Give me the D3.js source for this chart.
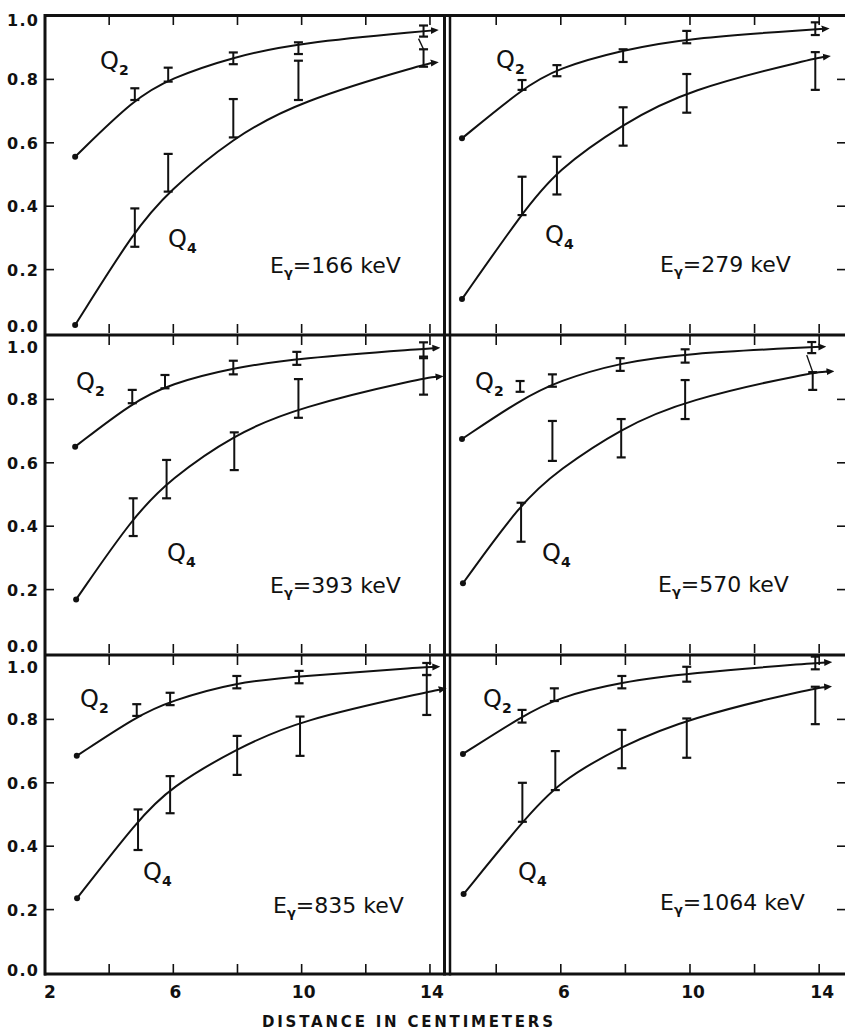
<!DOCTYPE html>
<html>
<head>
<meta charset="utf-8">
<script src="https://cdn.jsdelivr.net/npm/d3@7"></script>
<style>
  body { margin: 0; background: #fff; }
  text { font-family: "DejaVu Sans", sans-serif; fill: #111; }
</style>
</head>
<body>
<div id="chart"></div>
<script>
// gamma energy of each panel (row by row, left then right)
const energies = ["166", "279", "393", "570", "835", "1064"];
const xTicks = [4, 6, 8, 10, 12, 14];
const xLabelsLeft = [2, 6, 10, 14];
const xLabelsRight = [6, 10, 14];
const yTicks = [0, 0.2, 0.4, 0.6, 0.8, 1.0];

// smooth curves: [distance cm, value]
const q2Curves = [
  [[2.94,0.556],[4.8,0.74],[5.9,0.803],[7.9,0.872],[9.9,0.915],[13.9,0.953],[14.15,0.955]],
  [[2.94,0.614],[4.8,0.77],[5.88,0.835],[7.93,0.893],[9.9,0.93],[13.88,0.958],[14.2,0.96]],
  [[2.94,0.651],[4.72,0.79],[5.9,0.849],[7.87,0.9],[9.9,0.93],[13.8,0.96],[14.2,0.962]],
  [[2.94,0.675],[4.74,0.798],[5.93,0.859],[7.84,0.916],[9.85,0.945],[13.8,0.965],[14.1,0.966]],
  [[2.99,0.685],[4.86,0.81],[5.9,0.858],[7.98,0.918],[9.92,0.936],[13.9,0.965],[14.2,0.966]],
  [[2.97,0.691],[4.8,0.81],[5.93,0.87],[7.89,0.918],[9.9,0.945],[13.88,0.978],[14.28,0.98]]
];
const q4Curves = [
  [[2.94,0.025],[4.8,0.325],[5.84,0.446],[7.87,0.617],[9.9,0.73],[13.9,0.85],[14.15,0.853]],
  [[2.94,0.107],[4.8,0.378],[5.88,0.514],[7.93,0.66],[9.9,0.767],[13.88,0.867],[14.24,0.872]],
  [[2.97,0.169],[4.75,0.43],[5.9,0.548],[7.9,0.69],[9.9,0.775],[13.8,0.868],[14.3,0.872]],
  [[2.97,0.22],[4.77,0.474],[5.93,0.577],[7.87,0.709],[9.85,0.798],[13.8,0.886],[14.35,0.888]],
  [[3.0,0.236],[4.9,0.483],[5.9,0.585],[7.99,0.709],[9.95,0.798],[13.9,0.886],[14.4,0.896]],
  [[2.99,0.249],[4.81,0.477],[5.93,0.603],[7.89,0.716],[9.9,0.803],[13.88,0.9],[14.28,0.903]]
];

// error bars: [distance cm, low, high]
const q2Bars = [
  [[4.8,0.735,0.772],[5.84,0.793,0.837],[7.87,0.848,0.885],[9.9,0.88,0.917],[13.8,0.935,0.97]],
  [[4.8,0.767,0.798],[5.88,0.81,0.845],[7.93,0.855,0.895],[9.9,0.914,0.953],[13.88,0.94,0.98]],
  [[4.72,0.788,0.83],[5.74,0.835,0.877],[7.87,0.879,0.922],[9.85,0.909,0.95],[13.8,0.935,0.98]],
  [[4.74,0.824,0.858],[5.74,0.84,0.879],[7.84,0.89,0.93],[9.85,0.916,0.958],[13.77,0.946,0.981]],
  [[4.86,0.811,0.848],[5.9,0.845,0.884],[7.98,0.898,0.937],[9.92,0.914,0.953],[13.9,0.94,0.978]],
  [[4.8,0.79,0.83],[5.8,0.858,0.898],[7.89,0.898,0.937],[9.9,0.919,0.966],[13.88,0.958,0.998]]
];
const q4Bars = [
  [[4.8,0.272,0.393],[5.84,0.446,0.565],[7.87,0.617,0.738],[9.9,0.735,0.859],[13.8,0.84,0.895]],
  [[4.8,0.372,0.493],[5.88,0.437,0.556],[7.93,0.591,0.712],[9.9,0.695,0.817],[13.88,0.767,0.886]],
  [[4.75,0.369,0.488],[5.79,0.488,0.609],[7.9,0.577,0.696],[9.9,0.742,0.864],[13.8,0.815,0.93]],
  [[4.77,0.351,0.474],[5.74,0.606,0.732],[7.87,0.617,0.738],[9.85,0.738,0.861],[13.8,0.83,0.886]],
  [[4.9,0.388,0.516],[5.9,0.504,0.621],[7.99,0.625,0.748],[9.95,0.685,0.809],[13.9,0.814,0.94]],
  [[4.81,0.477,0.6],[5.83,0.577,0.7],[7.89,0.646,0.767],[9.9,0.679,0.803],[13.88,0.785,0.903]]
];
// panels where the last Q2 bar is joined to the Q4 bar by a short stroke
const joinedPanels = [0, 3];

// layout
const width = 845, height = 1031;
const rowTops = [16, 336, 656], rowH = 317;
const cols = [
  { left: 45, right: 446, domain: [2, 14.5] },
  { left: 451, right: 845, domain: [2.6, 14.8] }
];
// label baselines, relative to panel left / row top
const labelPos = [
  { q2: [55, 53], q4: [123, 231], e: [225, 257] },
  { q2: [45, 52], q4: [94, 227], e: [209, 256] },
  { q2: [31, 54], q4: [122, 225], e: [225, 257] },
  { q2: [24, 54], q4: [91, 225], e: [207, 256] },
  { q2: [35, 51], q4: [98, 224], e: [228, 257] },
  { q2: [32, 51], q4: [67, 224], e: [209, 254] }
];

const svg = d3.select("#chart")
  .append("svg")
    .attr("width", width)
    .attr("height", height);

svg.append("defs").append("marker")
    .attr("id", "arrow")
    .attr("viewBox", "0 -4 8 8")
    .attr("markerUnits", "userSpaceOnUse")
    .attr("markerWidth", 8)
    .attr("markerHeight", 8)
    .attr("refX", 4)
    .attr("refY", 0)
    .attr("orient", "auto")
  .append("path")
    .attr("d", "M0,-3.5L8,0L0,3.5Z")
    .attr("fill", "#111");

const ink = "#111";

energies.forEach((energy, i) => {
  const row = Math.floor(i / 2), col = i % 2;
  const c = cols[col];
  const top = rowTops[row];
  const x = d3.scaleLinear().domain(c.domain).range([c.left, c.right]);
  const y = d3.scaleLinear().domain([0, 1]).range([top + rowH, top]);
  const g = svg.append("g");

  // x ticks, pointing inward from the top and bottom edge
  xTicks.forEach(t => {
    g.append("line").attr("x1", x(t)).attr("x2", x(t))
      .attr("y1", top).attr("y2", top + 9)
      .attr("stroke", ink).attr("stroke-width", 1.6);
    g.append("line").attr("x1", x(t)).attr("x2", x(t))
      .attr("y1", top + rowH).attr("y2", top + rowH - 9)
      .attr("stroke", ink).attr("stroke-width", 1.6);
  });

  // y ticks: left axis on the left column, right edge on the right column
  yTicks.slice(1, -1).forEach(t => {
    const x0 = col === 0 ? c.left : c.right;
    const x1 = col === 0 ? c.left + 9 : c.right - 8;
    g.append("line").attr("x1", x0).attr("x2", x1)
      .attr("y1", y(t)).attr("y2", y(t))
      .attr("stroke", ink).attr("stroke-width", 1.6);
  });

  if (col === 0) {
    yTicks.forEach(t => {
      let dy = 6;
      if (t === 1) dy = row === 0 ? 10 : 17;
      if (t === 0) dy = row === 2 ? 3 : -1;
      g.append("text")
        .attr("x", 39).attr("y", y(t) + dy)
        .attr("text-anchor", "end")
        .attr("font-size", 16)
        .attr("font-weight", "bold")
        .attr("letter-spacing", 1.2)
        .text(t.toFixed(1));
    });
  }

  // hand-drawn looking smooth curves through the read points
  const line = d3.line()
    .x(d => x(d[0]))
    .y(d => y(d[1]))
    .curve(d3.curveBasis);

  [q2Curves[i], q4Curves[i]].forEach(curve => {
    g.append("path")
      .attr("d", line(curve))
      .attr("fill", "none")
      .attr("stroke", ink)
      .attr("stroke-width", 2)
      .attr("marker-end", "url(#arrow)");
    g.append("circle")
      .attr("cx", x(curve[0][0])).attr("cy", y(curve[0][1]))
      .attr("r", 3).attr("fill", ink);
  });

  [q2Bars[i], q4Bars[i]].forEach(bars => {
    const bg = g.selectAll(null).data(bars).join("g");
    bg.append("line")
      .attr("x1", d => x(d[0])).attr("x2", d => x(d[0]))
      .attr("y1", d => y(d[1])).attr("y2", d => y(d[2]))
      .attr("stroke", ink).attr("stroke-width", 2);
    bg.selectAll("line.cap").data(d => [[d[0], d[1]], [d[0], d[2]]]).join("line")
      .attr("class", "cap")
      .attr("x1", d => x(d[0]) - 4.5).attr("x2", d => x(d[0]) + 4.5)
      .attr("y1", d => y(d[1])).attr("y2", d => y(d[1]))
      .attr("stroke", ink).attr("stroke-width", 2.2);
  });

  if (joinedPanels.includes(i)) {
    const a = q2Bars[i][q2Bars[i].length - 1];
    const b = q4Bars[i][q4Bars[i].length - 1];
    g.append("path")
      .attr("d", `M${x(a[0]) - 5},${y(a[1]) + 2}L${x(b[0])},${y(b[2])}`)
      .attr("fill", "none").attr("stroke", ink).attr("stroke-width", 1.4);
  }

  // curve labels and energy
  const lp = labelPos[i];
  [["2", lp.q2], ["4", lp.q4]].forEach(([sub, p]) => {
    const t = g.append("text")
      .attr("x", c.left + p[0]).attr("y", top + p[1])
      .attr("font-size", 24);
    t.append("tspan").text("Q");
    t.append("tspan").attr("font-size", 14).attr("font-weight", "bold")
      .attr("dy", 6).text(sub);
  });
  const et = g.append("text")
    .attr("x", c.left + lp.e[0]).attr("y", top + lp.e[1])
    .attr("font-family", "Liberation Sans, Arial, sans-serif")
    .attr("font-size", 22);
  et.append("tspan").text("E");
  et.append("tspan").attr("font-size", 13).attr("font-weight", "bold")
    .attr("dy", 4).text("γ");
  et.append("tspan").attr("dy", -4).text(`=${energy} keV`);
});

// frame: top edge, row separators, bottom axis, left axis, double divider
const frame = svg.append("g").attr("stroke", ink).attr("fill", "none");
[15.5, 335, 655, 974].forEach(v => {
  frame.append("line").attr("x1", 44).attr("x2", width)
    .attr("y1", v).attr("y2", v).attr("stroke-width", 3);
});
frame.append("line").attr("x1", 45).attr("x2", 45)
  .attr("y1", 14).attr("y2", 975.5).attr("stroke-width", 3);
frame.append("line").attr("x1", 444.5).attr("x2", 444.5)
  .attr("y1", 14).attr("y2", 975.5).attr("stroke-width", 3);
frame.append("line").attr("x1", 450).attr("x2", 450)
  .attr("y1", 14).attr("y2", 975.5).attr("stroke-width", 2.5);

// bottom tick labels
const xl = d3.scaleLinear().domain(cols[0].domain).range([cols[0].left, cols[0].right]);
const xr = d3.scaleLinear().domain(cols[1].domain).range([cols[1].left, cols[1].right]);
const tl = svg.append("g")
  .attr("font-size", 17).attr("font-weight", "bold").attr("text-anchor", "middle");
xLabelsLeft.forEach(v => {
  tl.append("text").attr("x", xl(v) + (v === 2 ? 5 : 2)).attr("y", 998).text(v);
});
xLabelsRight.forEach(v => {
  tl.append("text").attr("x", xr(v) + 3).attr("y", 998).text(v);
});

svg.append("text")
  .attr("x", 262).attr("y", 1027)
  .attr("font-size", 15).attr("font-weight", "bold")
  .attr("textLength", 291).attr("lengthAdjust", "spacing")
  .text("DISTANCE IN CENTIMETERS");
</script>
</body>
</html>
